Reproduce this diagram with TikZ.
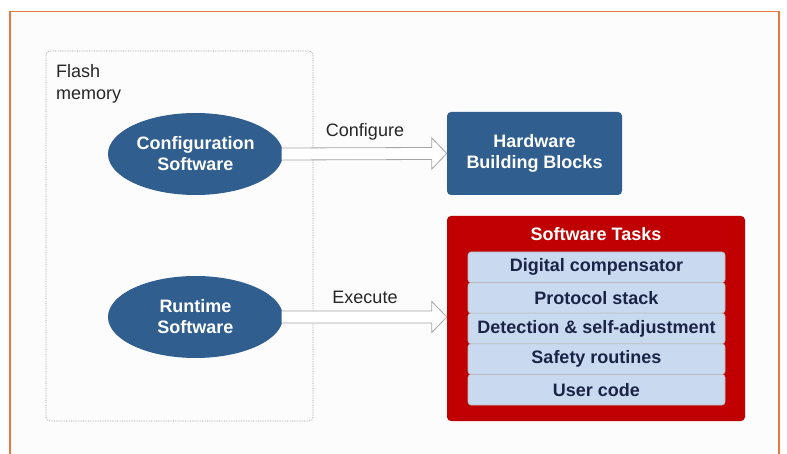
\documentclass[tikz,border=0pt]{standalone}
\usepackage{fontspec}
\setmainfont{Liberation Sans}
\usetikzlibrary{calc,shapes.geometric}
\definecolor{bluebox}{RGB}{47,94,143}
\definecolor{redbox}{RGB}{192,0,0}
\definecolor{rowfill}{RGB}{201,218,240}
\definecolor{rowtext}{RGB}{27,36,70}
\definecolor{frameorange}{RGB}{234,120,62}
\definecolor{pagebg}{RGB}{252,252,252}
\tikzset{
  ell/.style={ellipse, fill=bluebox, minimum width=175pt, minimum height=82pt, inner sep=0pt,
     text=white, font=\fontsize{18}{21}\selectfont\bfseries, align=center},
  hwbox/.style={rectangle, rounded corners=4pt, fill=bluebox, minimum width=175pt, minimum height=83pt,
     inner sep=0pt, text=white, font=\fontsize{18}{21}\selectfont\bfseries, align=center},
  taskbox/.style={rectangle, rounded corners=4pt, fill=redbox, minimum width=298pt, minimum height=205pt, inner sep=0pt},
  rowbox/.style={rectangle, rounded corners=3pt, fill=rowfill, draw=gray!55, line width=0.6pt,
     minimum width=257pt, minimum height=30.6pt, inner sep=0pt, text=rowtext,
     font=\fontsize{18}{21}\selectfont\bfseries},
  lbl/.style={font=\fontsize{18}{22}\selectfont, text=black!85, inner sep=0pt},
  hollow/.style={fill=white, draw=gray!70, line width=0.8pt, line join=miter},
  flashbox/.style={draw=gray!80, densely dotted, line width=0.7pt, rounded corners=4pt}
}
\begin{document}
\begin{tikzpicture}[x=1pt,y=-1pt]
\useasboundingbox (0,0) rectangle (787,454);
\fill[white] (0,0) rectangle (787,454);
\fill[pagebg] (10,11.5) rectangle (779,454);
\draw[frameorange, line width=1.4pt] (10,454) -- (10,11.5) -- (779,11.5) -- (779,454);
% flash memory region
\draw[flashbox] (46,51) rectangle (313,421);
\node[lbl, anchor=north west, align=left] (flash) at (56,64) {Flash\\memory};
% nodes
\node[ell] (conf) at (195.5,154) {Configuration\\Software};
\node[ell] (run) at (195.5,317) {Runtime\\Software};
\node[hwbox] (hw) at (534.5,153.5) {Hardware\\Building Blocks};
\node[taskbox] (tasks) at (596,318.5) {};
\node[text=white, font=\fontsize{18}{21}\selectfont\bfseries, inner sep=0pt] (title) at (596,234) {Software Tasks};
\node[rowbox] (r1) at (596.5,267.3) {Digital compensator};
\node[rowbox] (r2) at (596.5,297.9) {Protocol stack};
\node[rowbox] (r3) at (596.5,328.5) {Detection \& self-adjustment};
\node[rowbox] (r4) at (596.5,359.1) {Safety routines};
\node[rowbox] (r5) at (596.5,389.7) {User code};
% hollow arrows
\draw[hollow] ($(conf.east)+(-1.5,-6)$) -- ($(hw.west)+(-15,-6)$) -- ($(hw.west)+(-15,-15.5)$)
   -- (hw.west) -- ($(hw.west)+(-15,15.5)$) -- ($(hw.west)+(-15,6)$) -- ($(conf.east)+(-1.5,6)$);
\coordinate (extip) at (tasks.west |- run.east);
\draw[hollow] ($(run.east)+(-1.5,-6)$) -- ($(extip)+(-15,-6)$) -- ($(extip)+(-15,-15.5)$)
   -- (extip) -- ($(extip)+(-15,15.5)$) -- ($(extip)+(-15,6)$) -- ($(run.east)+(-1.5,6)$);
\node[lbl] (cfg) at (365,132) {Configure};
\node[lbl] (exe) at (365,297) {Execute};
\end{tikzpicture}
\end{document}
